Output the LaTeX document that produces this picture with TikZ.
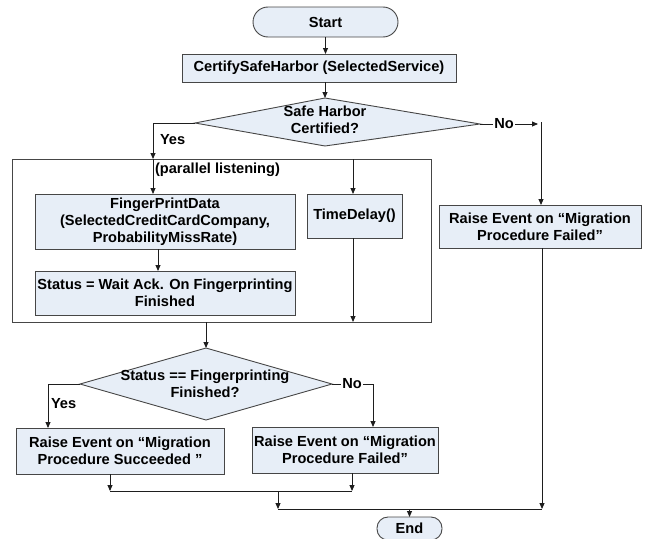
\documentclass[tikz,border=0pt]{standalone}
\usepackage{fontspec}
\setmainfont{Liberation Sans}
\usetikzlibrary{arrows.meta}
\definecolor{boxfill}{RGB}{231,238,247}
\definecolor{boxline}{RGB}{70,70,70}
\definecolor{wire}{RGB}{30,30,30}
\begin{document}
\begin{tikzpicture}[x=1pt,y=-1pt,
  every node/.style={font=\bfseries\fontsize{14.6}{17}\selectfont, inner sep=0pt, outer sep=0pt},
  proc/.style={draw=boxline, fill=boxfill, line width=0.9pt, align=center},
  term/.style={proc, rounded corners=15pt},
  flow/.style={draw=wire, line width=0.9pt},
  arr/.style={flow, -{Triangle[length=6pt,width=5pt]}},
  decision/.style={fill=boxfill, draw=boxline, line width=0.9pt},
  tag/.style={fill=white, inner xsep=1.5pt, inner ysep=0pt}
]
\useasboundingbox (0,0) rectangle (645,538);

% top part
\node[term, minimum width=145, minimum height=30] (start) at (325.5,22) {Start};
\node[proc, minimum width=274, minimum height=28] (cert) at (319,68) {CertifySafeHarbor (SelectedService)};
\draw[arr] (start.south) -- (start.south |- cert.north);

% first decision
\coordinate (d1t) at (325,98);
\coordinate (d1l) at (195,123);
\coordinate (d1r) at (480,124);
\coordinate (d1b) at (325,146);
\filldraw[decision] (d1t) -- (d1r) -- (d1b) -- (d1l) -- cycle;
\node[align=center] (d1) at (325,120) {Safe Harbor\\Certified?};
\draw[arr] (cert.south -| d1t) -- (d1t);

% parallel listening frame
\node[draw=boxline, line width=0.9pt, minimum width=419, minimum height=163] (par) at (221.5,240.5) {};
\coordinate (ya) at (153,159);
\coordinate (tb) at (353,159);
\draw[arr] (d1l) -- (d1l -| ya) -- (ya);
\node[anchor=west] (yes1) at (160,140) {Yes};

\node[proc, minimum width=260, minimum height=55] (fp) at (165,221.5)
  {FingerPrintData\\(SelectedCreditCardCompany,\\ProbabilityMissRate)};
\node[proc, minimum width=260, minimum height=44] (st) at (165,293)
  {Status = Wait Ack. On Fingerprinting\\Finished};
\node[proc, minimum width=95, minimum height=44] (td) at (354.5,216) {TimeDelay()};
\draw[arr] (ya) -- (ya |- fp.north);
\node[anchor=west] (pl) at (155,170) {(parallel listening)};
\draw[arr] ([xshift=-7]fp.south) -- ([xshift=-7]st.north);
\draw[arr] (tb) -- (tb |- td.north);
\draw[arr] (td.south -| tb) -- (tb |- par.south);

% "No" branch of the first decision
\node[proc, minimum width=202, minimum height=43] (fr) at (540,226.5)
  {Raise Event on “Migration\\Procedure Failed”};
\coordinate (nr) at (538,124);
\coordinate (rv) at (541,122);
\draw[arr] (d1r) -- (nr);
\node[tag] (no1) at (504,124) {No};
\draw[arr] (rv) -- (rv |- fr.north);

% second decision
\coordinate (d2t) at (206,348);
\coordinate (d2l) at (80,384);
\coordinate (d2r) at (332,384);
\coordinate (d2b) at (206,420);
\draw[arr] (par.south -| d2t) -- (d2t);
\filldraw[decision] (d2t) -- (d2r) -- (d2b) -- (d2l) -- cycle;
\node[align=center] (d2) at (205,384) {Status == Fingerprinting\\Finished?};

\node[proc, minimum width=208, minimum height=46] (succ) at (120,451)
  {Raise Event on “Migration\\Procedure Succeeded ”};
\node[proc, minimum width=186, minimum height=46] (f2) at (345,450)
  {Raise Event on “Migration\\Procedure Failed”};

\coordinate (yb) at (48,384);
\draw[arr] (d2l) -- (yb) -- (yb |- succ.north);
\node[anchor=west] (yes2) at (51,404) {Yes};

\coordinate (nb) at (373,384);
\draw[arr] (d2r) -- (nb) -- (nb |- f2.north);
\node[tag] (no2) at (352,384) {No};

% merging towards the end
\coordinate (m1) at (110,491);
\coordinate (m2) at (352,491);
\coordinate (m3) at (278,491);
\coordinate (m4) at (278,509);
\coordinate (m5) at (542,509);
\draw[arr] (succ.south -| m1) -- (m1);
\draw[arr] (f2.south -| m2) -- (m2);
\draw[flow] (m1) -- (m2);
\draw[arr] (m3) -- (m4);
\draw[flow] (m4) -- (m5);
\draw[arr] (fr.south -| m5) -- (m5);

\node[term, rounded corners=11pt, minimum width=65, minimum height=23] (end) at (409.5,528.5) {End};
\draw[arr] (end.north |- m4) -- (end.north);
\end{tikzpicture}
\end{document}
